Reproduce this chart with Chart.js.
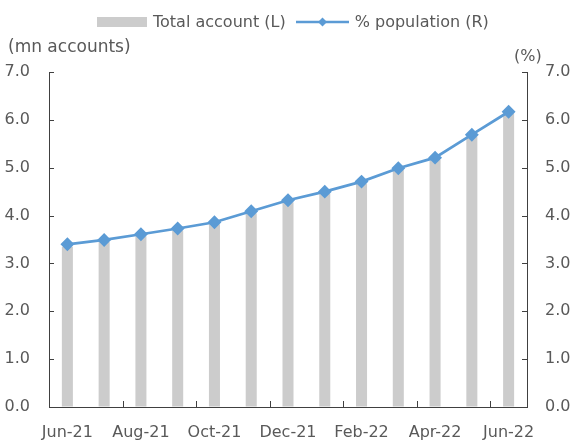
<!DOCTYPE html>
<html>
<head>
<meta charset="utf-8">
<script src="https://cdn.jsdelivr.net/npm/chart.js@4/dist/chart.umd.min.js"></script>
<style>
  html, body { margin: 0; padding: 0; background: #fff; }
  #wrap { position: relative; width: 574px; height: 442px; font-family: "DejaVu Sans", sans-serif; color: #595959; }
  #legend { position: absolute; top: 12px; left: 97px; height: 20px; display: flex; align-items: center; font-size: 16px; white-space: nowrap; }
  .box { width: 50px; height: 10px; background: #cccccc; margin-right: 6px; }
  .txt { line-height: 20px; }
  .sym { margin: 0 6px 0 10px; }
  .ttl { position: absolute; font-size: 16px; line-height: 20px; white-space: nowrap; }
</style>
</head>
<body>
<div id="wrap">
  <canvas id="c" width="574" height="442"></canvas>
  <div id="legend">
    <span class="box"></span><span class="txt">Total account (L)</span>
    <svg class="sym" width="53" height="12"><line x1="0" y1="6" x2="53" y2="6" stroke="#5b9bd5" stroke-width="2.5"/><polygon points="26.5,1.5 31,6 26.5,10.5 22,6" fill="#5b9bd5"/></svg>
    <span class="txt">% population (R)</span>
  </div>
  <div class="ttl" style="left:8px; top:36px; font-size:17px;">(mn accounts)</div>
  <div class="ttl" style="left:514px; top:46px;">(%)</div>
</div>
<script>
const months = ['Jun-21','Jul-21','Aug-21','Sep-21','Oct-21','Nov-21','Dec-21','Jan-22','Feb-22','Mar-22','Apr-22','May-22','Jun-22'];
const totalAccount = [3.35, 3.45, 3.57, 3.69, 3.82, 4.05, 4.28, 4.46, 4.67, 4.95, 5.17, 5.65, 6.14];
const pctPopulation = [3.40, 3.49, 3.61, 3.73, 3.86, 4.09, 4.32, 4.50, 4.71, 4.99, 5.21, 5.69, 6.17];
const axisTicks = [0, 1, 2, 3, 4, 5, 6, 7];

const axisColor = '#404040';
const labelColor = '#595959';
const font = { family: 'DejaVu Sans', size: 16 };

// inward tick marks like the original
const innerTicks = {
  id: 'innerTicks',
  afterDatasetsDraw(chart) {
    const {ctx, chartArea: a, scales} = chart;
    ctx.save();
    ctx.strokeStyle = axisColor;
    ctx.lineWidth = 1;
    ctx.beginPath();
    axisTicks.forEach(v => {
      const yl = Math.round(scales.y.getPixelForValue(v)) + 0.5;
      ctx.moveTo(a.left, yl); ctx.lineTo(a.left + 5, yl);
      const yr = Math.round(scales.y1.getPixelForValue(v)) + 0.5;
      ctx.moveTo(a.right, yr); ctx.lineTo(a.right - 5, yr);
    });
    const step = (a.right - a.left) / months.length;
    for (let k = 2; k < months.length; k += 2) {
      const x = Math.round(a.left + k * step) + 0.5;
      ctx.moveTo(x, a.bottom); ctx.lineTo(x, a.bottom - 6);
    }
    ctx.stroke();
    ctx.restore();
  }
};

new Chart(document.getElementById('c'), {
  data: {
    labels: months,
    datasets: [
      {
        type: 'line', label: '% population (R)', data: pctPopulation, yAxisID: 'y1',
        borderColor: '#5b9bd5', backgroundColor: '#5b9bd5', borderWidth: 2.75,
        pointStyle: 'rectRot', pointRadius: 5, pointHoverRadius: 5, tension: 0, order: 1
      },
      {
        type: 'bar', label: 'Total account (L)', data: totalAccount, yAxisID: 'y',
        backgroundColor: '#cccccc', categoryPercentage: 1, barPercentage: 0.3, order: 2
      }
    ]
  },
  options: {
    responsive: false,
    animation: false,
    layout: { padding: { top: 72, left: 0, right: 0, bottom: 0 } },
    plugins: { legend: { display: false }, tooltip: { enabled: false } },
    scales: {
      x: {
        offset: true,
        grid: { drawOnChartArea: false, drawTicks: false },
        border: { color: axisColor, width: 1 },
        ticks: {
          autoSkip: false, maxRotation: 0, color: labelColor, font, padding: 16,
          callback: (v, i) => i % 2 === 0 ? months[i] : ''
        },
        afterFit: s => { s.height = 35; }
      },
      y: {
        position: 'left', min: 0, max: 7,
        grid: { drawOnChartArea: false, drawTicks: false },
        border: { color: axisColor, width: 1 },
        ticks: { stepSize: 1, color: labelColor, font, padding: 19, callback: v => v.toFixed(1) },
        afterFit: s => { s.width = 49; }
      },
      y1: {
        position: 'right', min: 0, max: 7,
        grid: { drawOnChartArea: false, drawTicks: false },
        border: { color: axisColor, width: 1 },
        ticks: { stepSize: 1, color: labelColor, font, padding: 18, callback: v => v.toFixed(1) },
        afterFit: s => { s.width = 47; }
      }
    }
  },
  plugins: [innerTicks]
});
</script>
</body>
</html>
